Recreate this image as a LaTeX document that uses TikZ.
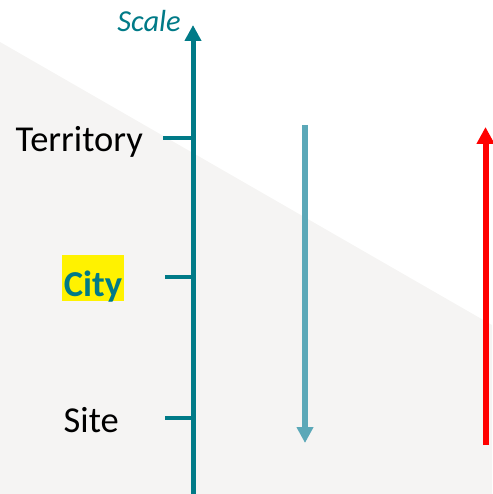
\documentclass[tikz,border=0pt]{standalone}
\usepackage{fontspec}
\setmainfont{Carlito}
\usetikzlibrary{arrows.meta}
\definecolor{tealA}{RGB}{0,122,135}
\definecolor{tealL}{RGB}{91,168,184}
\definecolor{bggray}{RGB}{245,244,243}
\tikzset{
  axisline/.style={draw=tealA, line width=5pt, -{Triangle[width=16pt,length=16pt]}},
  tickline/.style={draw=tealA, line width=4pt},
  downarrow/.style={draw=tealL, line width=5.5pt, -{Triangle[width=16pt,length=16pt]}},
  uparrow/.style={draw=red, line width=6pt, -{Triangle[width=17pt,length=17pt]}},
  lbl/.style={inner sep=0pt, anchor=base east, font=\fontsize{36.5}{40}\selectfont},
}
\begin{document}
\begin{tikzpicture}[x=1pt,y=-1pt]
\useasboundingbox (0,0) rectangle (492,494);
\fill[bggray] (0,42) -- (492,325) -- (492,494) -- (0,494) -- cycle;
% axis
\coordinate (axb) at (193,494);
\coordinate (axt) at (193,25);
\draw[axisline] (axb) -- (axt);
\node[inner sep=0pt, anchor=base east, text=tealA, font=\fontsize{30.5}{34}\selectfont\itshape] (scale) at (181,32) {Scale};
% ticks
\coordinate (t1) at (163,138); \coordinate (a1) at (193,138);
\coordinate (t2) at (165,277); \coordinate (a2) at (193,277);
\coordinate (t3) at (165,418); \coordinate (a3) at (193,418);
\draw[tickline] (t1) -- (a1);
\draw[tickline] (t2) -- (a2);
\draw[tickline] (t3) -- (a3);
% labels
\node[lbl] (ter) at (143,152) {Territory};
\node[inner xsep=1.5pt, inner ysep=0pt, anchor=base, fill=yellow, text=tealA, font=\fontsize{36.5}{40}\selectfont\bfseries, text height=41pt, text depth=5pt] (city) at (93,296) {City};
\node[lbl] (site) at (119,432) {Site};
% right arrows
\coordinate (d1) at (305,125); \coordinate (d2) at (305,443);
\draw[downarrow] (d1) -- (d2);
\coordinate (u1) at (485.5,445); \coordinate (u2) at (485.5,127);
\draw[uparrow] (u1) -- (u2);
\end{tikzpicture}
\end{document}
